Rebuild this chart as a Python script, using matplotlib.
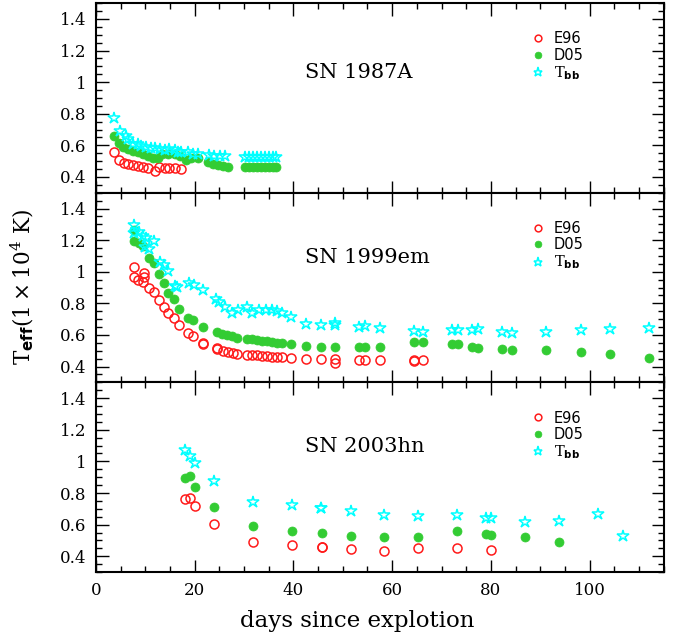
import numpy as np
import matplotlib.pyplot as plt
from matplotlib.ticker import MultipleLocator

plt.rcParams['mathtext.fontset'] = 'custom'
plt.rcParams['mathtext.rm'] = 'DejaVu Serif'
plt.rcParams['mathtext.it'] = 'DejaVu Serif:italic'
plt.rcParams['mathtext.bf'] = 'DejaVu Sans:bold'

# --- SN 1987A ---
sn87_e96_day = [3.6, 4.7, 5.7, 6.5, 7.5, 8.6, 9.6, 10.6, 11.9, 12.8, 13.9, 14.9, 16.0, 17.3]
sn87_e96_t = [0.557, 0.506, 0.491, 0.485, 0.476, 0.470, 0.460, 0.456, 0.440, 0.464, 0.456, 0.456, 0.456, 0.450]
sn87_d05_day = [3.6, 4.7, 5.5, 6.5, 7.5, 8.6, 9.6, 10.6, 11.6, 12.6, 13.3, 14.6, 16.0, 17.0, 18.3, 19.3,
                20.7, 22.7, 23.7, 24.7, 25.7, 26.7, 30.2, 31.0, 31.8, 32.6, 33.4, 34.2, 35.0, 35.8, 36.5]
sn87_d05_t = [0.657, 0.612, 0.591, 0.576, 0.565, 0.555, 0.544, 0.534, 0.523, 0.517, 0.544, 0.548, 0.544, 0.534,
              0.508, 0.523, 0.523, 0.495, 0.485, 0.476, 0.470, 0.464, 0.460, 0.460, 0.460, 0.460, 0.460,
              0.460, 0.460, 0.460, 0.460]
sn87_tbb_day = [3.6, 4.8, 6.1, 6.5, 7.5, 8.6, 9.2, 10.2, 11.2, 11.9, 12.9, 13.9, 14.9, 16.0, 16.6, 17.3,
                18.6, 19.7, 20.7, 23.0, 24.0, 25.1, 26.1, 30.2, 31.0, 31.8, 32.6, 33.4, 34.2, 35.0, 35.8, 36.5]
sn87_tbb_t = [0.774, 0.693, 0.660, 0.638, 0.608, 0.608, 0.597, 0.587, 0.583, 0.583, 0.576, 0.570, 0.576,
              0.570, 0.561, 0.555, 0.555, 0.544, 0.544, 0.540, 0.534, 0.534, 0.534, 0.527, 0.527, 0.527,
              0.527, 0.527, 0.527, 0.527, 0.527, 0.527]

# --- SN 1999em ---
sn99_e96_day = [7.7, 7.7, 8.5, 9.7, 9.7, 9.6, 10.7, 11.8, 12.7, 13.7, 14.7, 15.8, 16.8, 18.7, 19.7, 21.7,
                21.7, 24.5, 24.5, 25.7, 26.7, 27.7, 28.6, 30.6, 31.7, 32.7, 33.7, 34.7, 35.7, 36.7, 37.7,
                39.5, 42.5, 45.6, 48.5, 48.5, 53.3, 54.5, 57.5, 64.4, 64.4, 66.3]
sn99_e96_t = [1.029, 0.970, 0.950, 0.993, 0.965, 0.933, 0.895, 0.870, 0.821, 0.778, 0.736, 0.710, 0.662,
              0.611, 0.594, 0.547, 0.540, 0.519, 0.510, 0.498, 0.494, 0.487, 0.477, 0.473, 0.473, 0.471,
              0.466, 0.466, 0.463, 0.460, 0.458, 0.452, 0.449, 0.449, 0.445, 0.420, 0.441, 0.441, 0.439,
              0.441, 0.436, 0.441]
sn99_d05_day = [7.7, 7.7, 8.7, 9.6, 10.8, 11.7, 12.8, 13.7, 14.7, 15.8, 16.8, 18.7, 19.7, 21.7, 24.5, 25.6,
                26.6, 27.6, 28.6, 30.6, 31.7, 32.7, 33.7, 34.7, 35.7, 36.7, 37.7, 39.5, 42.5, 45.6, 48.5,
                53.3, 54.5, 57.5, 64.4, 66.3, 72.2, 73.4, 76.2, 77.4, 82.3, 84.3, 91.2, 98.2, 104.2, 112.1]
sn99_d05_t = [1.267, 1.194, 1.180, 1.160, 1.088, 1.054, 0.987, 0.927, 0.866, 0.827, 0.764, 0.710, 0.694,
              0.651, 0.619, 0.604, 0.600, 0.594, 0.583, 0.576, 0.573, 0.568, 0.562, 0.562, 0.555, 0.551,
              0.547, 0.540, 0.532, 0.526, 0.524, 0.524, 0.524, 0.524, 0.555, 0.555, 0.540, 0.540, 0.526,
              0.515, 0.509, 0.503, 0.503, 0.494, 0.481, 0.455]
sn99_tbb_day = [7.7, 7.7, 8.7, 9.6, 10.2, 9.9, 10.8, 11.7, 12.9, 13.7, 14.7, 16.0, 16.4, 18.9, 19.8, 21.7,
                24.4, 24.9, 26.1, 27.6, 28.7, 30.6, 31.7, 33.1, 34.5, 35.7, 36.7, 37.7, 39.5, 42.5, 45.6,
                48.5, 48.5, 53.3, 54.5, 57.5, 64.4, 66.3, 72.2, 73.4, 76.2, 77.4, 82.3, 84.3, 91.2, 98.2,
                104.2, 112.1]
sn99_tbb_t = [1.294, 1.245, 1.252, 1.224, 1.216, 1.156, 1.146, 1.194, 1.060, 1.040, 1.008, 0.912, 0.906,
              0.927, 0.918, 0.885, 0.827, 0.806, 0.774, 0.742, 0.757, 0.774, 0.742, 0.757, 0.757, 0.757,
              0.753, 0.736, 0.715, 0.668, 0.662, 0.675, 0.665, 0.653, 0.656, 0.643, 0.625, 0.621, 0.630,
              0.630, 0.630, 0.640, 0.621, 0.615, 0.621, 0.630, 0.640, 0.647]

# --- SN 2003hn ---
sn03_e96_day = [18.0, 19.0, 20.0, 23.9, 31.8, 39.7, 45.7, 45.7, 51.7, 58.4, 65.3, 73.1, 80.1]
sn03_e96_t = [0.759, 0.768, 0.715, 0.604, 0.487, 0.471, 0.456, 0.460, 0.445, 0.430, 0.452, 0.450, 0.441]
sn03_d05_day = [18.0, 19.0, 20.0, 23.9, 31.8, 39.7, 45.7, 51.7, 58.4, 65.3, 73.2, 79.1, 80.1, 86.9, 93.8]
sn03_d05_t = [0.895, 0.905, 0.838, 0.710, 0.589, 0.561, 0.545, 0.526, 0.524, 0.524, 0.560, 0.541, 0.537,
              0.524, 0.487]
sn03_tbb_day = [18.0, 19.0, 20.0, 23.9, 31.8, 39.7, 45.6, 45.6, 51.7, 58.4, 65.3, 73.1, 79.1, 80.1, 86.9,
                93.7, 101.6, 106.7]
sn03_tbb_t = [1.071, 1.033, 0.990, 0.876, 0.742, 0.721, 0.704, 0.708, 0.683, 0.662, 0.653, 0.662, 0.640,
              0.640, 0.619, 0.621, 0.664, 0.530]

panels = [
    ("SN 1987A", sn87_e96_day, sn87_e96_t, sn87_d05_day, sn87_d05_t, sn87_tbb_day, sn87_tbb_t, 1.062),
    ("SN 1999em", sn99_e96_day, sn99_e96_t, sn99_d05_day, sn99_d05_t, sn99_tbb_day, sn99_tbb_t, 1.09),
    ("SN 2003hn", sn03_e96_day, sn03_e96_t, sn03_d05_day, sn03_d05_t, sn03_tbb_day, sn03_tbb_t, 1.097),
]

RED = '#ff1a1a'
GREEN = '#33cc33'
CYAN = '#00ffff'
SERIF = 'DejaVu Serif'

fig = plt.figure(figsize=(6.85, 6.43), dpi=100)
left, width = 0.140, 0.829
h = 0.2949
bottom0 = 0.1104

for k, (name, ed, et, dd, dt, bd, bt, ylab) in enumerate(panels):
    ax = fig.add_axes([left, bottom0 + (2 - k) * h, width, h])
    ax.plot(ed, et, 'o', ms=6.5, mfc='none', mec=RED, mew=1.1, label='E96')
    ax.plot(dd, dt, 'o', ms=6.5, mfc=GREEN, mec=GREEN, mew=0.5, label='D05')
    ax.plot(bd, bt, '*', ms=9, mfc='none', mec=CYAN, mew=1.1, label=r'$\mathrm{T}_{\mathbf{bb}}$')
    ax.set_xlim(0, 115)
    ax.set_ylim(0.3, 1.5)
    ax.xaxis.set_major_locator(MultipleLocator(20))
    ax.xaxis.set_minor_locator(MultipleLocator(5))
    ax.yaxis.set_minor_locator(MultipleLocator(0.05))
    ax.set_yticks([0.4, 0.6, 0.8, 1.0, 1.2, 1.4])
    ax.set_yticklabels(['0.4', '0.6', '0.8', '1', '1.2', '1.4'])
    ax.tick_params(which='both', direction='in', top=True, right=True, width=1.0)
    ax.tick_params(which='major', length=9)
    ax.tick_params(which='minor', length=4.5)
    ax.tick_params(labelsize=12, pad=7)
    for lab in ax.get_yticklabels() + ax.get_xticklabels():
        lab.set_family(SERIF)
    for sp in ax.spines.values():
        sp.set_linewidth(1.5)
    if k < 2:
        ax.tick_params(labelbottom=False)
    ax.text(42.4, ylab, name, family=SERIF, fontsize=15, va='center', ha='left')
    ax.legend(loc='upper left', bbox_to_anchor=(0.755, 0.89), frameon=False,
              handlelength=0.8, handletextpad=0.7, labelspacing=0.1, borderpad=0,
              prop={'family': 'DejaVu Sans', 'size': 10.5}, markerscale=0.75)
    if k == 2:
        ax.set_xlabel('days since explotion', family=SERIF, fontsize=16.5)
        ax.xaxis.set_label_coords(0.46, -0.2)

fig.text(0.032, 0.553, r'$\mathrm{T}_{\mathbf{eff}}\mathrm{(1}\times\mathrm{10^{4}\ K)}$',
         rotation=90, fontsize=15.5, va='center', ha='center')

fig.savefig('out.png', dpi=100)
